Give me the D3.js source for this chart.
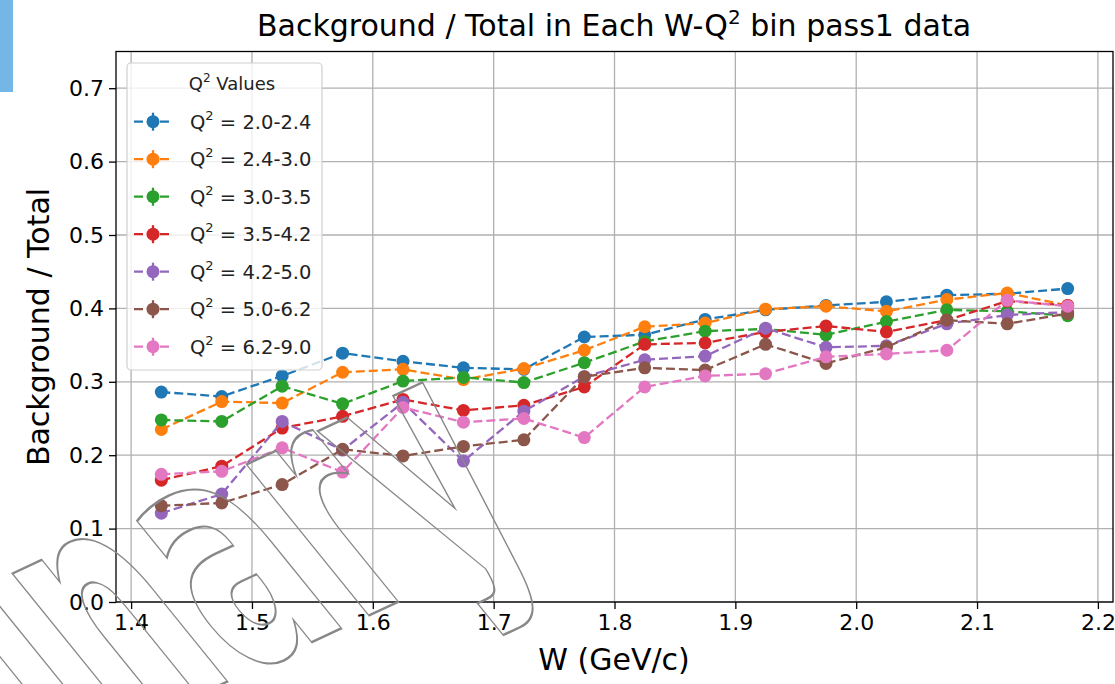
<!DOCTYPE html>
<html>
<head>
<meta charset="utf-8">
<script src="https://d3js.org/d3.v7.min.js"></script>
<style>
  body { margin: 0; background: #fff; }
  text { font-family: "DejaVu Sans", sans-serif; }
</style>
</head>
<body>
<script>
// W bin centres
var wBins = [1.425, 1.475, 1.525, 1.575, 1.625, 1.675, 1.725, 1.775,
             1.825, 1.875, 1.925, 1.975, 2.025, 2.075, 2.125, 2.175];

var q2Labels = ["2.0-2.4", "2.4-3.0", "3.0-3.5", "3.5-4.2", "4.2-5.0", "5.0-6.2", "6.2-9.0"];
var colors = ["#1f77b4", "#ff7f0e", "#2ca02c", "#d62728", "#9467bd", "#8c564b", "#e377c2"];

var q2_20_24 = [0.286, 0.280, 0.308, 0.339, 0.328, 0.319, 0.317, 0.361, 0.364, 0.385, 0.398, 0.404, 0.409, 0.418, 0.420, 0.427];
var q2_24_30 = [0.235, 0.273, 0.271, 0.313, 0.317, 0.303, 0.318, 0.343, 0.375, 0.380, 0.399, 0.403, 0.396, 0.412, 0.421, 0.404];
var q2_30_35 = [0.248, 0.246, 0.294, 0.270, 0.301, 0.306, 0.299, 0.326, 0.355, 0.369, 0.372, 0.364, 0.382, 0.398, 0.396, 0.390];
var q2_35_42 = [0.166, 0.185, 0.237, 0.253, 0.276, 0.261, 0.268, 0.293, 0.351, 0.353, 0.368, 0.376, 0.368, 0.384, 0.410, 0.404];
var q2_42_50 = [0.121, 0.147, 0.246, 0.207, 0.272, 0.192, 0.260, 0.307, 0.330, 0.335, 0.373, 0.347, 0.349, 0.379, 0.391, 0.395];
var q2_50_62 = [0.131, 0.135, 0.160, 0.208, 0.199, 0.212, 0.221, 0.307, 0.319, 0.316, 0.351, 0.325, 0.347, 0.384, 0.379, 0.393];
var q2_62_90 = [0.174, 0.178, 0.210, 0.177, 0.265, 0.245, 0.250, 0.224, 0.293, 0.308, 0.311, 0.334, 0.338, 0.343, 0.411, 0.403];

var xTicks = [1.4, 1.5, 1.6, 1.7, 1.8, 1.9, 2.0, 2.1, 2.2];
var yTicks = [0.0, 0.1, 0.2, 0.3, 0.4, 0.5, 0.6, 0.7];

var series = [q2_20_24, q2_24_30, q2_30_35, q2_35_42, q2_42_50, q2_50_62, q2_62_90];

var w = 1115, h = 684;
var plotL = 116, plotR = 1113, plotT = 51.5, plotB = 602;

var svg = d3.select("body").append("svg")
    .attr("width", w)
    .attr("height", h);

var x = d3.scaleLinear().domain([1.3875, 2.2125]).range([plotL, plotR]);
var y = d3.scaleLinear().domain([0, 0.75]).range([plotB, plotT]);

// small blue tab in the corner
svg.append("rect").attr("x", 0).attr("y", 0).attr("width", 13).attr("height", 92).attr("fill", "#74b6e6");

// grid
svg.append("g").selectAll("line").data(xTicks).enter().append("line")
    .attr("x1", d => x(d)).attr("x2", d => x(d))
    .attr("y1", plotT).attr("y2", plotB)
    .attr("stroke", "#b0b0b0").attr("stroke-width", 1.3);
svg.append("g").selectAll("line").data(yTicks).enter().append("line")
    .attr("x1", plotL).attr("x2", plotR)
    .attr("y1", d => y(d)).attr("y2", d => y(d))
    .attr("stroke", "#b0b0b0").attr("stroke-width", 1.3);

// axes
var xAxis = d3.axisBottom(x).tickValues(xTicks).tickFormat(d3.format(".1f")).tickSize(7).tickPadding(5);
var yAxis = d3.axisLeft(y).tickValues(yTicks).tickFormat(d3.format(".1f")).tickSize(7).tickPadding(5);

var gx = svg.append("g").attr("transform", "translate(0," + plotB + ")").call(xAxis);
var gy = svg.append("g").attr("transform", "translate(" + plotL + ",0)").call(yAxis);
[gx, gy].forEach(function(g) {
    g.select(".domain").remove();
    g.selectAll("line").attr("stroke", "#000").attr("stroke-width", 1.3);
    g.selectAll("text").attr("font-size", 22).attr("fill", "#000")
        .style("font-family", "DejaVu Sans, sans-serif");
});

// series
var line = d3.line().x((d, i) => x(wBins[i])).y(d => y(d));
series.forEach(function(vals, k) {
    var g = svg.append("g");
    g.append("path").datum(vals)
        .attr("d", line)
        .attr("fill", "none")
        .attr("stroke", colors[k])
        .attr("stroke-width", 2.3)
        .attr("stroke-dasharray", "9,4");
    g.selectAll("circle").data(vals).enter().append("circle")
        .attr("cx", (d, i) => x(wBins[i]))
        .attr("cy", d => y(d))
        .attr("r", 6.5)
        .attr("fill", colors[k]);
});

// frame
svg.append("rect").attr("x", plotL).attr("y", plotT)
    .attr("width", plotR - plotL).attr("height", plotB - plotT)
    .attr("fill", "none").attr("stroke", "#000").attr("stroke-width", 1.3);

// legend
var leg = svg.append("g");
leg.append("rect").attr("x", 127).attr("y", 63).attr("width", 195).attr("height", 307)
    .attr("rx", 4).attr("fill", "#fff").attr("fill-opacity", 0.8)
    .attr("stroke", "#d0d0d0").attr("stroke-width", 1.2);
var lt = leg.append("text").attr("x", 232).attr("y", 90).attr("text-anchor", "middle")
    .attr("font-size", 18).attr("fill", "#222");
lt.append("tspan").text("Q");
lt.append("tspan").attr("dy", -8).attr("font-size", 12).text("2");
lt.append("tspan").attr("dy", 8).text(" Values");

q2Labels.forEach(function(lab, k) {
    var cy = 121.7 + k * 37.5;
    leg.append("line").attr("x1", 134).attr("x2", 173).attr("y1", cy).attr("y2", cy)
        .attr("stroke", colors[k]).attr("stroke-width", 2.3).attr("stroke-dasharray", "9,4");
    leg.append("line").attr("x1", 153).attr("x2", 153).attr("y1", cy - 9).attr("y2", cy + 9)
        .attr("stroke", colors[k]).attr("stroke-width", 2.3);
    leg.append("circle").attr("cx", 153).attr("cy", cy).attr("r", 6.5).attr("fill", colors[k]);
    var t = leg.append("text").attr("x", 190).attr("y", cy + 7).attr("font-size", 19.5).attr("fill", "#222");
    t.append("tspan").text("Q");
    t.append("tspan").attr("dy", -9).attr("font-size", 13).text("2");
    t.append("tspan").attr("dy", 9).text(" = " + lab);
});

// title & labels
var tt = svg.append("text").attr("x", 614).attr("y", 36).attr("text-anchor", "middle")
    .attr("font-size", 30).attr("fill", "#000");
tt.append("tspan").text("Background / Total in Each W-Q");
tt.append("tspan").attr("dy", -12).attr("font-size", 20).text("2");
tt.append("tspan").attr("dy", 12).text(" bin pass1 data");

svg.append("text").attr("x", 614).attr("y", 670).attr("text-anchor", "middle")
    .attr("font-size", 30).attr("fill", "#000").text("W (GeV/c)");

svg.append("text").attr("transform", "translate(49,327) rotate(-90)").attr("text-anchor", "middle")
    .attr("font-size", 30).attr("fill", "#000").text("Background / Total");

// watermark
svg.append("text").text("Preliminary")
    .attr("transform", "translate(548,532) rotate(-25) skewX(14) scale(0.54,1)")
    .attr("text-anchor", "end")
    .attr("font-size", 345)
    .attr("font-weight", "bold")
    .attr("fill", "none")
    .attr("stroke", "#888")
    .attr("stroke-width", 2)
    .attr("vector-effect", "non-scaling-stroke");
</script>
</body>
</html>
